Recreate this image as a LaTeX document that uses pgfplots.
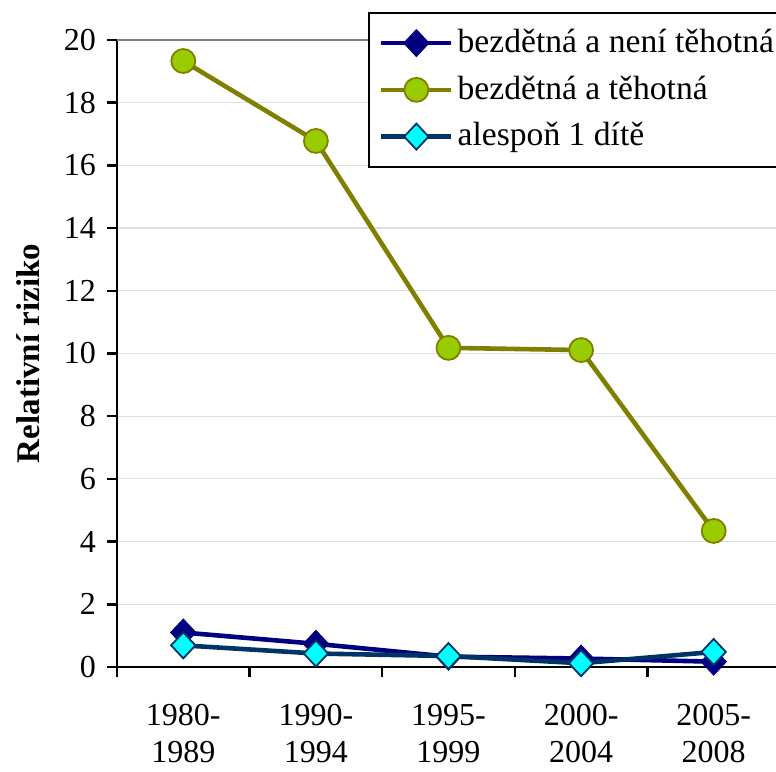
\documentclass[border=0pt]{standalone}
\usepackage{fontspec}
\setmainfont{Liberation Serif}
\usepackage{pgfplots}
\pgfplotsset{compat=1.18}
\definecolor{navyc}{RGB}{0,0,128}
\definecolor{olivec}{RGB}{128,128,0}
\definecolor{limec}{RGB}{153,204,0}
\definecolor{darkbl}{RGB}{0,51,102}
\definecolor{cyanc}{RGB}{0,255,255}
\begin{document}
\fontsize{16}{19}\selectfont
\begin{tikzpicture}
\path[use as bounding box] (0,0) rectangle (388pt,385.5pt);
\begin{axis}[
  at={(58.5pt,52pt)}, anchor=south west,
  scale only axis, width=329.5pt, height=313.5pt,
  xmin=0.5, xmax=5.47, ymin=0, ymax=20,
  axis x line*=bottom, axis y line*=left,
  axis line style={line width=1.3pt, black},
  ytick={0,2,...,20},
  ymajorgrids, grid style={draw=gray!25, line width=0.6pt},
  tick align=outside, major tick length=5pt,
  tick style={line width=1.2pt, black},
  xtick={0.5,1.5,2.5,3.5,4.5},
  xticklabels={},
  extra x ticks={1,2,3,4,5},
  extra x tick labels={1980-\\1989,1990-\\1994,1995-\\1999,2000-\\2004,2005-\\2008},
  extra x tick style={major tick length=0pt, grid=none},
  xticklabel style={align=center, font=\fontsize{16}{18.5}\selectfont, yshift=-13pt},
  yticklabel style={font=\fontsize{16}{19}\selectfont},
  /pgf/number format/assume math mode=true,
  ylabel={\textbf{Relativní riziko}},
  ylabel style={at={(axis description cs:-0.135,0.5)}, anchor=center, font=\fontsize{16.5}{19}\selectfont},
  legend style={at={(0.381,1.0447)}, anchor=north west, draw=black, line width=1pt,
    font=\fontsize{16.8}{19.5}\selectfont, row sep=5.3pt, inner xsep=5pt, inner ysep=6pt},
  legend cell align=left,
  legend image code/.code={\draw[mark repeat=2,mark phase=2] plot coordinates {(0pt,0pt) (17.5pt,0pt) (35pt,0pt)};},
  clip=false,
]
\draw[gray, line width=0.8pt] (axis cs:0.5,20) -- (axis cs:5.47,20);
\addplot[navyc, line width=2.3pt, mark=diamond*, mark size=6.5pt, mark options={fill=navyc, draw=navyc, line width=0.8pt, xscale=1.25}]
  coordinates {(1,1.1) (2,0.74) (3,0.33) (4,0.27) (5,0.17)};
\addlegendentry{bezdětná a není těhotná}
\addplot[olivec, line width=2.3pt, mark=*, mark size=6pt, mark options={fill=limec, draw=olivec, line width=0.9pt}]
  coordinates {(1,19.33) (2,16.78) (3,10.18) (4,10.11) (5,4.34)};
\addlegendentry{bezdětná a těhotná}
\addplot[darkbl, line width=2.3pt, mark=diamond*, mark size=6.5pt, mark options={fill=cyanc, draw=darkbl, line width=0.9pt, xscale=1.25}]
  coordinates {(1,0.69) (2,0.43) (3,0.35) (4,0.12) (5,0.48)};
\addlegendentry{alespoň 1 dítě}
\end{axis}
\end{tikzpicture}
\end{document}
